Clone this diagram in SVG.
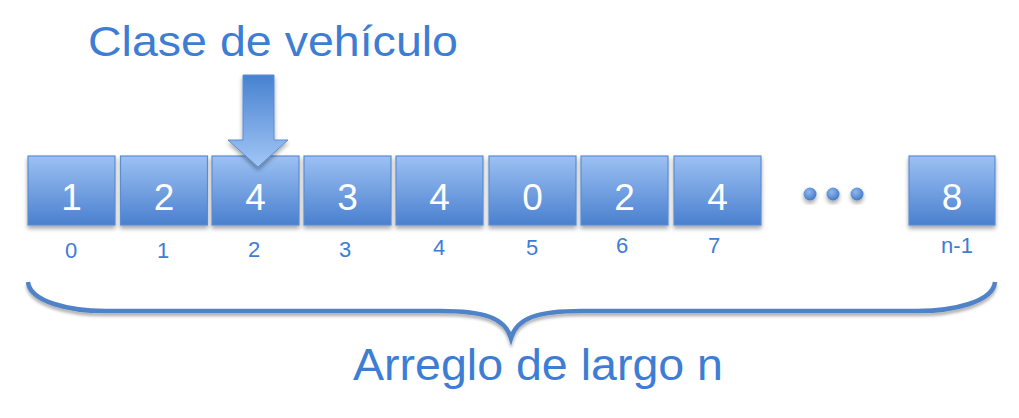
<svg xmlns="http://www.w3.org/2000/svg" width="1019" height="418" viewBox="0 0 1019 418">
<defs>
<linearGradient id="boxg" x1="0" y1="0" x2="0" y2="1">
<stop offset="0" stop-color="#9cc1f3"/>
<stop offset="1" stop-color="#4a80cf"/>
</linearGradient>
<linearGradient id="arrg" x1="0" y1="0" x2="0" y2="1">
<stop offset="0" stop-color="#4782d0"/>
<stop offset="1" stop-color="#a2c6f6"/>
</linearGradient>
<radialGradient id="dotg" cx="0.4" cy="0.35" r="0.7">
<stop offset="0" stop-color="#8fb8ee"/>
<stop offset="1" stop-color="#3f76c4"/>
</radialGradient>
<filter id="sh" x="-20%" y="-20%" width="140%" height="150%">
<feDropShadow dx="0" dy="3" stdDeviation="2" flood-color="#000" flood-opacity="0.35"/>
</filter>
<filter id="shb" x="-5%" y="-30%" width="110%" height="160%">
<feDropShadow dx="0" dy="3" stdDeviation="1.5" flood-color="#000" flood-opacity="0.3"/>
</filter>
</defs>
<style>
.box{fill:url(#boxg);stroke:#5a8dd2;stroke-width:1.2;filter:url(#sh)}
.val{font-family:"Liberation Sans",Arial,sans-serif;font-size:37px;fill:#fff;text-anchor:middle}
.idx{font-family:"Liberation Sans",Arial,sans-serif;font-size:22px;fill:#3d7dd4;text-anchor:middle}
.big{font-family:"Liberation Sans",Arial,sans-serif;fill:#3d7dd4}
.dot{fill:url(#dotg);filter:url(#sh)}
</style>
<text class="big" x="88" y="56" font-size="42" textLength="370" lengthAdjust="spacingAndGlyphs">Clase de vehículo</text>
<g id="n0"><rect class="box" x="28" y="156" width="87" height="69"/><text class="val" x="71.5" y="210">1</text><text class="idx" x="71" y="258">0</text></g>
<g id="n1"><rect class="box" x="120.5" y="156" width="87" height="69"/><text class="val" x="164" y="210">2</text><text class="idx" x="163" y="258">1</text></g>
<g id="n2"><rect class="box" x="212" y="156" width="87" height="69"/><text class="val" x="255.5" y="210">4</text><text class="idx" x="254" y="257">2</text></g>
<g id="n3"><rect class="box" x="304" y="156" width="87" height="69"/><text class="val" x="347.5" y="210">3</text><text class="idx" x="345" y="257">3</text></g>
<g id="n4"><rect class="box" x="396" y="156" width="87" height="69"/><text class="val" x="439.5" y="210">4</text><text class="idx" x="439" y="255">4</text></g>
<g id="n5"><rect class="box" x="489" y="156" width="87" height="69"/><text class="val" x="532.5" y="210">0</text><text class="idx" x="532" y="255">5</text></g>
<g id="n6"><rect class="box" x="581" y="156" width="87" height="69"/><text class="val" x="624.5" y="210">2</text><text class="idx" x="622" y="253">6</text></g>
<g id="n7"><rect class="box" x="674" y="156" width="87" height="69"/><text class="val" x="717.5" y="210">4</text><text class="idx" x="714" y="253">7</text></g>
<g id="dots"><circle class="dot" cx="810" cy="194" r="6.5"/><circle class="dot" cx="833" cy="194" r="6.5"/><circle class="dot" cx="857" cy="194" r="6.5"/></g>
<g id="nlast"><rect class="box" x="909" y="156" width="86" height="69"/><text class="val" x="952" y="210">8</text><text class="idx" x="957" y="253">n-1</text></g>
<g id="pointer"><path d="M243,75 L274,75 L274,140 L288,140 L258,167 L228,140 L243,140 Z" fill="url(#arrg)" stroke="#5a8dd2" stroke-width="1" filter="url(#sh)"/></g>
<g id="connectors"><path d="M28,282 C30,302 70,311 105,311 L440,311 C485,311 505,318 511,338 C517,318 537,311 582,311 L918,311 C953,311 993,302 995,282" fill="none" stroke="#4f82c6" stroke-width="4.5" filter="url(#shb)"/></g>
<text class="big" x="353" y="380" font-size="45" textLength="370" lengthAdjust="spacingAndGlyphs">Arreglo de largo n</text>
</svg>
